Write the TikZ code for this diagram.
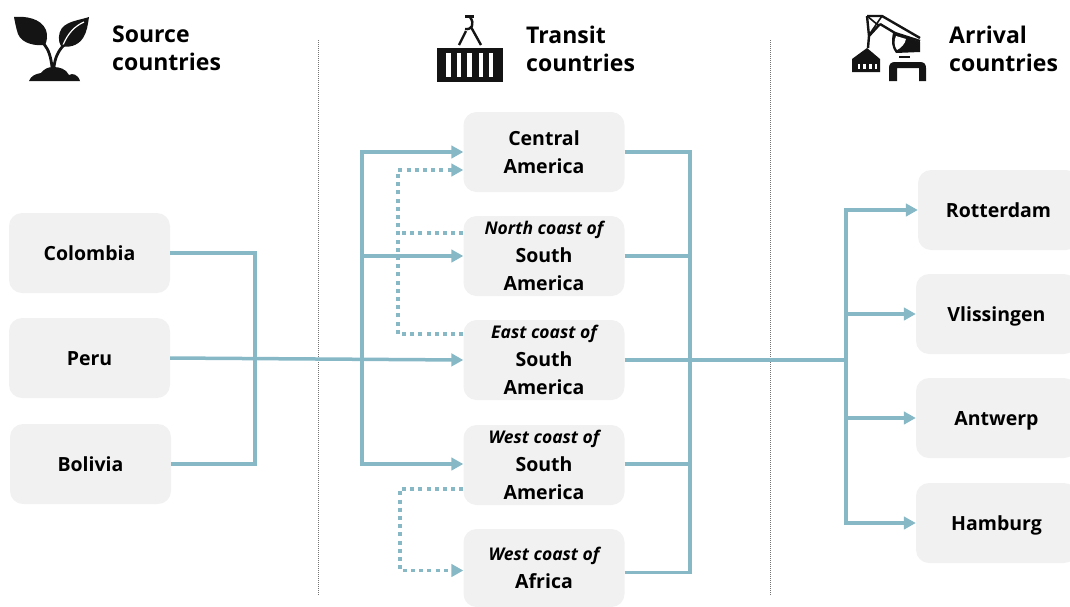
\documentclass[tikz,border=0pt]{standalone}
\usepackage{fontspec}
\setmainfont{Open Sans}
\usetikzlibrary{arrows.meta}
\definecolor{route}{HTML}{86B8C6}
\definecolor{boxgrey}{HTML}{F1F1F1}
\definecolor{inkblack}{HTML}{141414}
\newcommand{\coastline}[1]{{\fontsize{17.5}{26}\selectfont\itshape #1}}
\tikzset{
  place/.style={fill=boxgrey,rounded corners=13pt,minimum width=161pt,minimum height=80pt,
    inner sep=0pt,align=center,font=\fontsize{19.5}{28}\selectfont\bfseries},
  oneline/.style={place,text height=15pt,text depth=0pt},
  heading/.style={anchor=west,inner sep=0pt,align=left,font=\fontsize{23}{28}\selectfont\bfseries},
  link/.style={route,line width=3.5pt,line join=miter},
  arrowlink/.style={link,-{Triangle[length=12pt,width=12.5pt]}},
  hop/.style={route,line width=3.6pt,dash pattern=on 4pt off 4.2pt},
  arrowhop/.style={hop,-{Triangle[length=12pt,width=12.5pt]}},
  divider/.style={black!55,line width=0.8pt,dash pattern=on 1pt off 1pt},
  icon/.style={fill=inkblack,draw=none},
  iconline/.style={inkblack,line width=2.4pt}
}
\begin{document}
\begin{tikzpicture}[x=1pt,y=-1pt]
\useasboundingbox (0,0) rectangle (1070,606);
% dividers
\coordinate (diva) at (318,40);
\coordinate (divb) at (318,595);
\coordinate (divc) at (770,40);
\coordinate (divd) at (770,595);
\draw[divider] (diva) -- (divb);
\draw[divider] (divc) -- (divd);
% headings
\node[heading] (source) at (112,48.5) {Source\\countries};
\node[heading] (transit) at (526,48.5) {Transit\\countries};
\node[heading] (arrival) at (949,48.5) {Arrival\\countries};
% source boxes
\node[oneline] (colombia) at (89.5,253) {Colombia};
\node[oneline] (peru) at (89.5,358) {Peru};
\node[oneline] (bolivia) at (90.5,464) {Bolivia};
% transit boxes
\node[place] (central) at (544,152) {Central\\America};
\node[place] (north) at (544,256) {\coastline{North coast of}\\South\\America};
\node[place] (east) at (544,360) {\coastline{East coast of}\\South\\America};
\node[place] (west) at (544,465) {\coastline{West coast of}\\South\\America};
\node[place,minimum height=78pt] (africa) at (544,568) {\coastline{West coast of}\\Africa};
% arrival boxes
\node[oneline] (rotterdam) at (998.5,210) {Rotterdam};
\node[oneline] (vlissingen) at (996.5,314) {Vlissingen};
\node[oneline] (antwerp) at (996.5,418) {Antwerp};
\node[oneline] (hamburg) at (996.5,523) {Hamburg};
% junctions
\coordinate (srcbus) at (255,360);
\coordinate (inbus) at (362,360);
\coordinate (outbus) at (690,360);
\coordinate (arrbus) at (846,360);
% source to transit
\draw[link] (colombia.east) -| (srcbus);
\draw[link] (bolivia.east) -| (srcbus);
\draw[arrowlink] (peru.east) -- (east.west);
\draw[arrowlink] (inbus) |- (central.west);
\draw[arrowlink] (inbus) |- (north.west);
\draw[arrowlink] (inbus) |- ([yshift=1pt]west.west);
% transit to arrival
\draw[link] (central.east) -| (outbus);
\draw[link] (north.east) -| (outbus);
\draw[link] ([yshift=1pt]west.east) -| (outbus);
\draw[link] ([yshift=-4.5pt]africa.east) -| (outbus);
\draw[link] (east.east) -- (arrbus);
\draw[arrowlink] (arrbus) |- (rotterdam.west);
\draw[arrowlink] (arrbus) |- (vlissingen.west);
\draw[arrowlink] (arrbus) |- (antwerp.west);
\draw[arrowlink] (arrbus) |- (hamburg.west);
% dotted hops
\coordinate (hopa) at (398,334);
\coordinate (hopb) at (398,170);
\coordinate (hopc) at (398,233);
\coordinate (hopd) at (400,489);
\coordinate (hope) at (400,570.5);
\draw[arrowhop] ([yshift=26pt]east.west) -- (hopa) -- (hopb) -- ([yshift=-18pt]central.west);
\draw[hop] ([yshift=23pt]north.west) -- (hopc);
\draw[arrowhop] ([yshift=-24pt]west.west) -- (hopd) -- (hope) -- ([yshift=-2.5pt]africa.west);
% plant icon
\fill[icon] (14,17) .. controls (25,16) and (41,18) .. (46,30) .. controls (48,36) and (47,41) .. (45,45)
  .. controls (36,46) and (22,44) .. (18,34) .. controls (16,28) and (15,22) .. (14,17) -- cycle;
\fill[icon] (89,17) .. controls (80,20) and (68,21) .. (62,28) .. controls (58,33) and (58,42) .. (61,46)
  .. controls (68,48) and (78,46) .. (83,38) .. controls (87,32) and (88,24) .. (89,17) -- cycle;
\draw[white,line width=1.2pt] (84,22) .. controls (75,26) and (68,33) .. (63,45);
\draw[iconline,line width=2.8pt] (44,44) .. controls (49,50) and (51,58) .. (52,67);
\draw[iconline,line width=2.8pt] (64,45) .. controls (58,51) and (55,58) .. (54,67);
\fill[icon] (29,81) .. controls (31,76) and (35,74) .. (41,73) .. controls (44,69) and (48,67) .. (53,67)
  .. controls (60,67) and (66,69) .. (69,75) .. controls (72,73) and (78,74) .. (80,81) -- cycle;
% container icon
\fill[icon] (437,48) rectangle (503,82);
\foreach \barx in {446,456.7,467.3,478.5,488.5}
  \fill[white] (\barx,53) rectangle (\barx+4.5,77);
\draw[iconline] (465,16.5) -- (474,16.5);
\draw[iconline] (470,17) .. controls (475,24) and (472,30) .. (465,29);
\draw[iconline] (466,31) -- (459,45);
\draw[iconline] (471,27) -- (481,45);
% crane icon
\fill[icon] (852,72) -- (852,59) -- (867,48) -- (880,59) -- (880,72) -- cycle;
\foreach \winx in {857.5,863,869,874.5}
  \fill[white] (\winx,64) rectangle (\winx+2.8,69);
\fill[icon] (889,81) -- (889,68) .. controls (889,64) and (891,62) .. (895,62) -- (920,62)
  .. controls (924,62) and (926,64) .. (926,68) -- (926,81) -- (919,81) -- (919,68) -- (897,68) -- (897,81) -- cycle;
\fill[icon] (899,56) rectangle (910,58.4);
\draw[iconline,line join=miter] (867,16) -- (882,16) -- (920,38);
\draw[iconline] (880,24) -- (895,33) -- (920,41);
\draw[iconline] (867,16) -- (869,36) -- (868,48);
\draw[iconline,line width=1.6pt] (867,16) -- (878,25) (882,16) -- (869,35);
\draw[iconline] (869,36) -- (880,24);
\fill[icon] (893,33) -- (920,42) -- (920,52) -- (896,53) .. controls (892,48) and (891,42) .. (893,33) -- cycle;
\fill[white] (896,36) -- (906,39) .. controls (905,44) and (901,48) .. (897,50)
  .. controls (894,46) and (894,40) .. (896,36) -- cycle;
\end{tikzpicture}
\end{document}
